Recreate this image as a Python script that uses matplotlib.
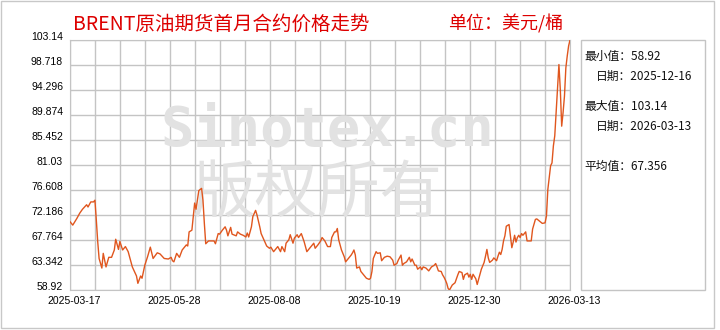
import numpy as np
import pandas as pd
import matplotlib
matplotlib.use("Agg")
import matplotlib.pyplot as plt
from matplotlib.patches import Rectangle
from matplotlib.transforms import ScaledTranslation

plt.rcParams['font.family'] = ['Noto Sans CJK SC', 'DejaVu Sans']

# data (days since the first date, price in USD/bbl)
start_date = "2025-03-17"
days = [0, 2, 5, 7, 9, 12, 13, 15, 17, 18, 19, 20, 21, 23, 24, 26, 28, 30, 32, 33,
        35, 36, 38, 40, 42, 45, 48, 49, 51, 52, 54, 56, 58, 60, 63, 65, 68, 71, 73, 74,
        75, 77, 79, 81, 84, 85, 86, 88, 89, 90, 91, 92, 93, 94, 95, 96, 97, 98, 100, 102,
        104, 105, 107, 108, 110, 112, 113, 114, 116, 117, 120, 121, 123, 125, 127, 128, 129, 131, 132, 134,
        135, 137, 138, 140, 142, 144, 145, 147, 149, 150, 152, 153, 155, 156, 158, 159, 161, 162, 164, 165,
        167, 169, 171, 173, 174, 176, 177, 179, 181, 182, 184, 186, 188, 189, 191, 192, 193, 194, 196, 198,
        199, 201, 203, 204, 205, 206, 207, 209, 210, 212, 214, 216, 217, 218, 219, 221, 222, 224, 225, 227,
        229, 231, 233, 234, 236, 237, 239, 240, 241, 243, 245, 246, 247, 249, 250, 251, 253, 254, 255, 257,
        259, 261, 263, 264, 265, 266, 268, 269, 270, 271, 272, 273, 274, 276, 278, 280, 281, 283, 284, 285,
        287, 288, 289, 290, 291, 293, 294, 296, 297, 298, 299, 300, 301, 302, 303, 305, 306, 308, 309, 310,
        311, 312, 313, 314, 315, 317, 318, 319, 320, 321, 322, 323, 324, 325, 326, 327, 329, 330, 332, 333,
        334, 336, 337, 339, 341, 343, 344, 345, 347, 348, 349, 350, 351, 352, 353, 354, 355, 356, 357, 358,
        359, 360, 361]
prices = [71.0, 70.4, 71.6, 72.5, 73.2, 74.0, 73.6, 74.5, 74.5, 74.8, 71.3, 67.5, 64.5, 62.8, 65.4, 63.0, 64.7, 64.7, 66.0, 67.9,
          66.1, 67.5, 66.0, 66.6, 65.7, 63.0, 61.4, 60.1, 61.4, 61.0, 63.3, 64.8, 66.5, 64.5, 65.5, 65.3, 64.5, 64.4, 64.7, 64.1,
          63.9, 65.4, 64.7, 66.0, 66.9, 66.7, 69.2, 69.5, 71.9, 74.3, 73.2, 74.8, 76.5, 76.7, 76.9, 74.8, 70.7, 67.1, 67.6, 67.6,
          67.6, 67.1, 68.9, 68.8, 69.5, 70.1, 69.5, 68.5, 70.0, 68.8, 68.5, 69.2, 68.8, 68.6, 68.3, 69.0, 68.3, 70.1, 71.9, 73.0,
          72.2, 70.1, 68.9, 67.8, 66.7, 66.3, 66.5, 65.7, 66.3, 66.6, 65.7, 66.6, 65.7, 67.2, 67.8, 68.7, 67.2, 68.1, 68.7, 68.2,
          68.9, 67.5, 65.7, 66.3, 66.6, 67.2, 66.3, 66.9, 67.6, 68.2, 67.6, 66.6, 66.6, 68.2, 69.2, 69.2, 69.8, 67.8, 66.0, 64.8,
          63.9, 64.5, 65.1, 65.5, 66.0, 65.1, 62.8, 63.0, 62.2, 61.6, 61.0, 60.8, 61.0, 62.2, 64.5, 65.7, 65.4, 65.5, 64.1, 64.7,
          64.9, 64.8, 64.2, 63.3, 63.6, 64.2, 65.1, 63.3, 63.6, 63.9, 64.7, 63.9, 64.4, 63.3, 63.3, 62.6, 63.0, 62.5, 63.0, 62.8,
          62.3, 63.0, 63.3, 63.6, 63.0, 62.3, 62.2, 61.6, 61.2, 60.7, 60.1, 59.2, 58.92, 59.8, 60.2, 61.6, 62.2, 62.0, 60.8, 61.6,
          61.9, 61.2, 61.7, 60.8, 61.7, 60.9, 59.9, 61.7, 62.6, 63.2, 63.8, 64.9, 66.1, 64.6, 63.8, 64.2, 64.6, 64.1, 64.9, 65.6,
          65.2, 66.1, 67.6, 68.5, 70.2, 70.5, 68.5, 66.4, 67.4, 68.6, 67.4, 68.2, 68.6, 68.2, 68.9, 68.6, 69.2, 67.6, 67.6, 67.6,
          69.7, 71.4, 71.5, 71.1, 70.7, 70.8, 72.0, 76.7, 80.9, 81.4, 84.4, 86.2, 90.3, 94.4, 98.8, 94.4, 87.9, 90.3, 93.2, 98.2,
          100.3, 102.1, 103.14]

y_ticks = [58.92, 63.342, 67.764, 72.186, 76.608, 81.03, 85.452, 89.874, 94.296, 98.718, 103.14]
y_tick_labels = ["58.92", "63.342", "67.764", "72.186", "76.608", "81.03",
                 "85.452", "89.874", "94.296", "98.718", "103.14"]
x_tick_labels = ["2025-03-17", "2025-05-28", "2025-08-08", "2025-10-19", "2025-12-30", "2026-03-13"]

title = "BRENT原油期货首月合约价格走势"
unit = "单位：美元/桶"
stats = [("最小值：", "58.92"), ("日期：", "2025-12-16"),
         ("最大值：", "103.14"), ("日期：", "2026-03-13"),
         ("平均值：", "67.356")]

W, H = 720, 330
fig = plt.figure(figsize=(W / 100, H / 100), dpi=100)

def fx(px):
    return px / W

def fy(py):
    return 1 - py / H

# outer frame
fig.patches.append(Rectangle((fx(1), fy(328)), fx(713), 327 / H, transform=fig.transFigure,
                             fill=False, edgecolor='#c8c8c8', lw=1))

ax = fig.add_axes([fx(70), fy(290), 500 / W, 250 / H])
t0 = pd.Timestamp(start_date)
x = np.array(days, dtype=float)
ax.plot(x, prices, color='#e0561e', lw=1.0, zorder=3)

ax.set_xlim(0, days[-1])
ax.set_ylim(y_ticks[0], y_ticks[-1])

# grid: 20 columns x 10 rows
ax.set_xticks(np.linspace(0, days[-1], 21), minor=True)
ax.set_xticks(np.linspace(0, days[-1], 6))
ax.set_xticklabels(x_tick_labels, fontsize=7.5, family=['Liberation Sans'])
ax.set_yticks(y_ticks)
ax.set_yticklabels(y_tick_labels, fontsize=7.5, family=['Liberation Sans'])
ax.grid(True, which='both', color='#c4c4c4', lw=1)
ax.tick_params(which='both', length=0)
ax.tick_params(axis='y', pad=5)
ax.tick_params(axis='x', pad=4)
for s in ax.spines.values():
    s.set_color('#c4c4c4')
ax.set_axisbelow(True)

for lab in ax.get_yticklabels():
    lab.set_transform(lab.get_transform() + ScaledTranslation(0, 4 / 100, fig.dpi_scale_trans))
for lab in ax.get_xticklabels():
    lab.set_transform(lab.get_transform() + ScaledTranslation(4 / 100, 0, fig.dpi_scale_trans))

# watermark
ax.text(0.515, 0.64, "Sinotex.cn", transform=ax.transAxes, ha='center', va='center',
        fontsize=40, fontweight='bold', family=['DejaVu Sans Mono'], color='#e2e2e2', zorder=1)
ax.text(0.495, 0.38, "版权所有", transform=ax.transAxes, ha='center', va='center',
        fontsize=45, color='#e2e2e2', zorder=1)

# titles
fig.text(fx(73), fy(24), title, ha='left', va='center', fontsize=14, color='#dd0000')
fig.text(fx(448), fy(24), unit, ha='left', va='center', fontsize=13, color='#dd0000')

# stats box
fig.patches.append(Rectangle((fx(581), fy(290)), fx(124), 250 / H, transform=fig.transFigure,
                             fill=False, edgecolor='#c4c4c4', lw=1))
stat_y = [56, 76, 106, 126, 166]
stat_x = [584, 596, 584, 596, 584]
for (k, v), sy, sx in zip(stats, stat_y, stat_x):
    fig.text(fx(sx), fy(sy), k + v, ha='left', va='center', fontsize=8.5, color='#111111')

fig.savefig("out.png", dpi=100)
